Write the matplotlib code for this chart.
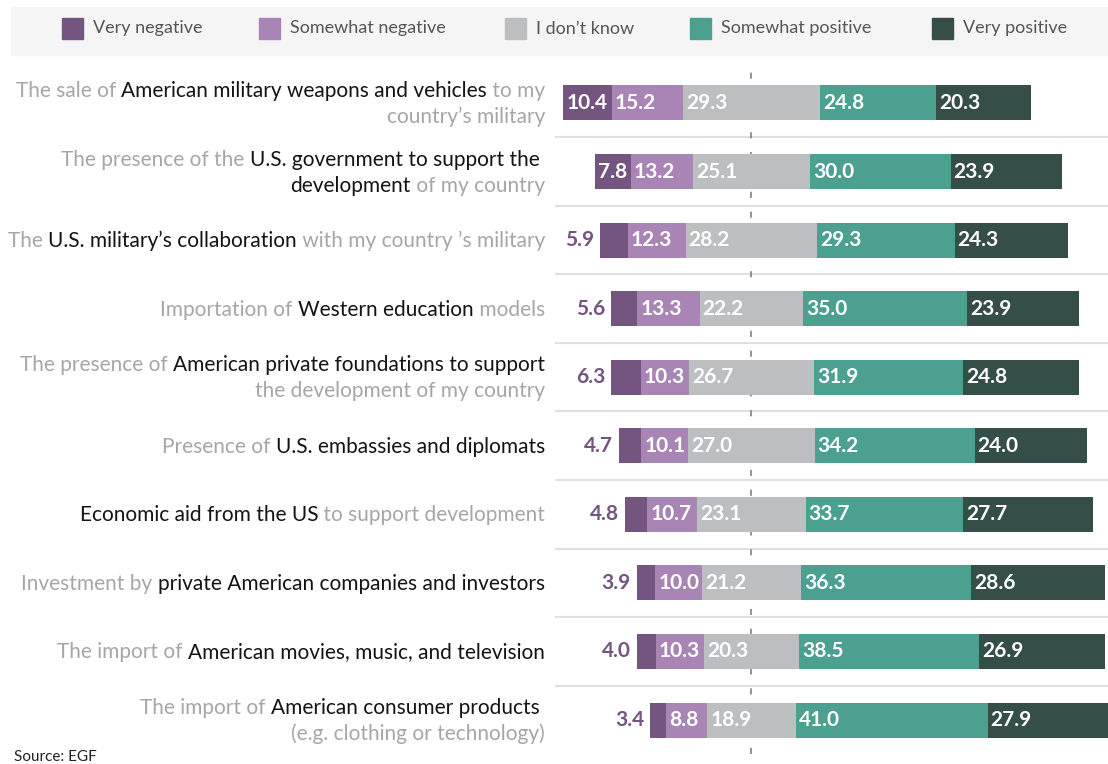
import matplotlib
matplotlib.use("Agg")
import matplotlib.pyplot as plt
from matplotlib.patches import Rectangle

# data
very_neg = [10.4, 7.8, 5.9, 5.6, 6.3, 4.7, 4.8, 3.9, 4.0, 3.4]
some_neg = [15.2, 13.2, 12.3, 13.3, 10.3, 10.1, 10.7, 10.0, 10.3, 8.8]
dont_know = [29.3, 25.1, 28.2, 22.2, 26.7, 27.0, 23.1, 21.2, 20.3, 18.9]
some_pos = [24.8, 30.0, 29.3, 35.0, 31.9, 34.2, 33.7, 36.3, 38.5, 41.0]
very_pos = [20.3, 23.9, 24.3, 23.9, 24.8, 24.0, 27.7, 28.6, 26.9, 27.9]

legend_labels = ["Very negative", "Somewhat negative", "I don\u2019t know",
                 "Somewhat positive", "Very positive"]

G = "#a6a6a6"   # gray part of a label
K = "#141414"   # highlighted part
categories = [
    [[("The sale of ", G), ("American military weapons and vehicles", K), (" to my", G)],
     [("country\u2019s military", G)]],
    [[("The presence of the ", G), ("U.S. government to support the ", K)],
     [("development", K), (" of my country", G)]],
    [[("The ", G), ("U.S. military\u2019s collaboration", K), (" with my country \u2019s military", G)]],
    [[("Importation of ", G), ("Western education", K), (" models", G)]],
    [[("The presence of ", G), ("American private foundations to support", K)],
     [("the development of my country", G)]],
    [[("Presence of ", G), ("U.S. embassies and diplomats", K)]],
    [[("Economic aid from the US", K), (" to support development", G)]],
    [[("Investment by ", G), ("private American companies and investors", K)]],
    [[("The import of ", G), ("American movies, music, and television", K)]],
    [[("The import of ", G), ("American consumer products ", K)],
     [("(e.g. clothing or technology)", G)]],
]

colors = ["#74557f", "#a985b6", "#bdbebf", "#4ca08f", "#354e47"]

plt.rcParams['font.family'] = ['Lato', 'DejaVu Sans']

W, H = 1108, 764
fig = plt.figure(figsize=(W / 100, H / 100), dpi=100)


def fx(x):
    return x / W


def fy(y):
    return 1 - y / H


# main axes, centred on the middle of "I don't know"
ax = fig.add_axes([fx(555), fy(754.3), (W - 555) / W, 685.6 / H])
ax.set_xlim(-42.0, 76.2)
ax.set_ylim(9.5, -0.5)
ax.axis('off')

rows = list(range(len(very_neg)))
series = [very_neg, some_neg, dont_know, some_pos, very_pos]
lefts = [-(a + b + c / 2) for a, b, c in zip(very_neg, some_neg, dont_know)]

for i in rows[:-1]:
    ax.axhline(i + 0.5, color="#e0e0e0", lw=1.5, zorder=0)
ax.axvline(0, color="#777777", lw=1.1, dashes=(4, 9), zorder=0.5)

for j, vals in enumerate(series):
    ax.barh(rows, vals, left=lefts, height=0.51, color=colors[j], zorder=2)
    for i, v in enumerate(vals):
        if j == 0 and v < 7:
            ax.annotate(f"{v:.1f}", xy=(lefts[i], i), xytext=(-6, 0),
                        textcoords='offset pixels', ha='right', va='center',
                        color=colors[0], fontsize=15, fontweight='bold', zorder=3)
        else:
            ax.annotate(f"{v:.1f}", xy=(lefts[i], i), xytext=(3, 0),
                        textcoords='offset pixels', ha='left', va='center',
                        color='white', fontsize=15, fontweight='bold', zorder=3)
    lefts = [l + v for l, v in zip(lefts, vals)]

# category labels with two colours
renderer = fig.canvas.get_renderer()
label_size = 15


def text_width(s):
    t = fig.text(0, 0, "|" + s + "|", fontsize=label_size)
    w = t.get_window_extent(renderer).width
    t.remove()
    t = fig.text(0, 0, "||", fontsize=label_size)
    w -= t.get_window_extent(renderer).width
    t.remove()
    return w


x_right = 545
line_gap = 26
for i, lines in enumerate(categories):
    yc = ax.transData.transform((0, i))[1]
    n = len(lines)
    for k, pieces in enumerate(lines):
        y = yc + (n - 1) / 2 * line_gap - k * line_gap
        widths = [text_width(s) for s, c in pieces]
        x = x_right - sum(widths)
        for (s, c), w in zip(pieces, widths):
            fig.text(x / W, (y - 7) / H, s, color=c, fontsize=label_size,
                     ha='left', va='baseline')
            x += w

# legend
fig.add_artist(Rectangle((fx(11), fy(55)), (W - 11) / W, 48 / H,
                         transform=fig.transFigure, color="#f5f5f5", zorder=0))
legend_x = [62, 259, 505, 690, 932]
for lx, lab, c in zip(legend_x, legend_labels, colors):
    fig.add_artist(Rectangle((fx(lx), fy(39)), 21 / W, 21 / H,
                             transform=fig.transFigure, color=c))
    fig.text(fx(lx + 31), fy(28.5), lab, fontsize=13, color="#555555",
             ha='left', va='center')

fig.text(fx(14), fy(757), "Source: EGF", fontsize=11, color="#222222",
         ha='left', va='center')

fig.savefig("out.png", dpi=100)
